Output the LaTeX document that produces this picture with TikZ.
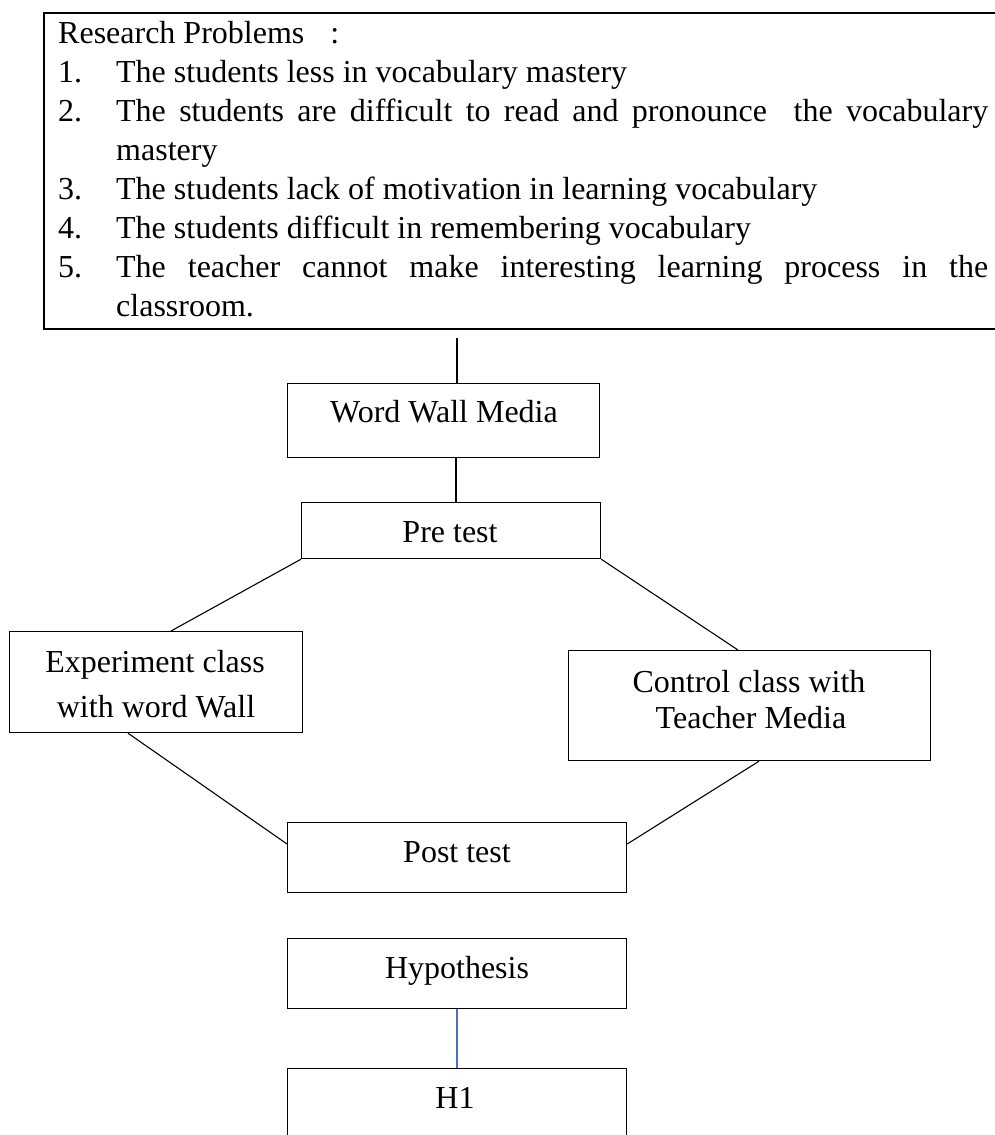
\documentclass[tikz,border=0pt]{standalone}
\usepackage{fontspec}
\setmainfont{Liberation Serif}
\usetikzlibrary{calc}
\tikzset{
  box/.style={draw, line width=1.2pt, rectangle, inner sep=0pt, anchor=north west},
  lbl/.style={font=\fontsize{32}{36.5}\selectfont, inner sep=0pt, anchor=base},
  link/.style={line width=1.1pt},
}
\begin{document}
\begin{tikzpicture}[x=1pt,y=-1pt]
\useasboundingbox (0,0) rectangle (995,1135);
\clip (0,0) rectangle (995,1135);
% top box (open to the right edge)
\node[box, line width=1.6pt, minimum width=1000pt, minimum height=316pt] (rpbox) at (43,12) {};
\node[anchor=north west, inner sep=0pt, text width=930pt, align=justify,
      font=\fontsize{32}{39}\selectfont] (rp) at (58,21) {%
  \parindent=0pt\tolerance=10000\spaceskip=.25em plus 1em minus .05em\relax
  Research Problems\hspace{26pt}:\par
  \hangindent=58pt\hangafter=1\makebox[58pt][l]{1.}The students less in vocabulary mastery\par
  \hangindent=58pt\hangafter=1\makebox[58pt][l]{2.}The students are difficult to read and pronounce\ \ the vocabulary mastery\par
  \hangindent=58pt\hangafter=1\makebox[58pt][l]{3.}The students lack of motivation in learning vocabulary\par
  \hangindent=58pt\hangafter=1\makebox[58pt][l]{4.}The students difficult in remembering vocabulary\par
  \hangindent=58pt\hangafter=1\makebox[58pt][l]{5.}The teacher cannot make interesting learning process in the classroom.\par};
% boxes
\node[box, minimum width=312pt, minimum height=74pt] (ww) at (287,383) {};
\node[box, minimum width=299pt, minimum height=56pt] (pre) at (301,502) {};
\node[box, minimum width=293pt, minimum height=101pt] (exp) at (9,631) {};
\node[box, minimum width=362pt, minimum height=110pt] (ctl) at (568,650) {};
\node[box, minimum width=339pt, minimum height=70pt] (post) at (287,822) {};
\node[box, minimum width=339pt, minimum height=70pt] (hyp) at (287,938) {};
\node[box, minimum width=339pt, minimum height=110pt] (hone) at (287,1068) {};
% labels
\node[lbl] (wwt) at (444,422) {Word Wall Media};
\node[lbl] (pret) at (450,542) {Pre test};
\node[lbl] (expt1) at (155,672) {Experiment class};
\node[lbl] (expt2) at (156,717) {with word Wall};
\node[lbl] (ctlt1) at (749,692) {Control class with};
\node[lbl] (ctlt2) at (751,728) {Teacher Media};
\node[lbl] (postt) at (457,862) {Post test};
\node[lbl] (hypt) at (457,978) {Hypothesis};
\node[lbl] (honet) at (455,1108) {H1};
% connectors
\coordinate (rpend) at (457,338);
\draw[link] (rpend) -- (rpend |- ww.north);
\draw[link] ($(ww.south west)+(169,0)$) -- ($(pre.north west)+(155,0)$);
\draw[link] (pre.south west) -- ($(exp.north west)+(162,0)$);
\draw[link] (pre.south east) -- ($(ctl.north west)+(170,0)$);
\draw[link] ($(exp.south west)+(119,0)$) -- ($(post.north west)+(0,22)$);
\draw[link] ($(ctl.south west)+(191,0)$) -- ($(post.north east)+(0,22)$);
\draw[link, color={rgb,255:red,68;green,114;blue,196}] ($(hyp.south west)+(170,0)$) -- ($(hone.north west)+(170,0)$);
\end{tikzpicture}
\end{document}
